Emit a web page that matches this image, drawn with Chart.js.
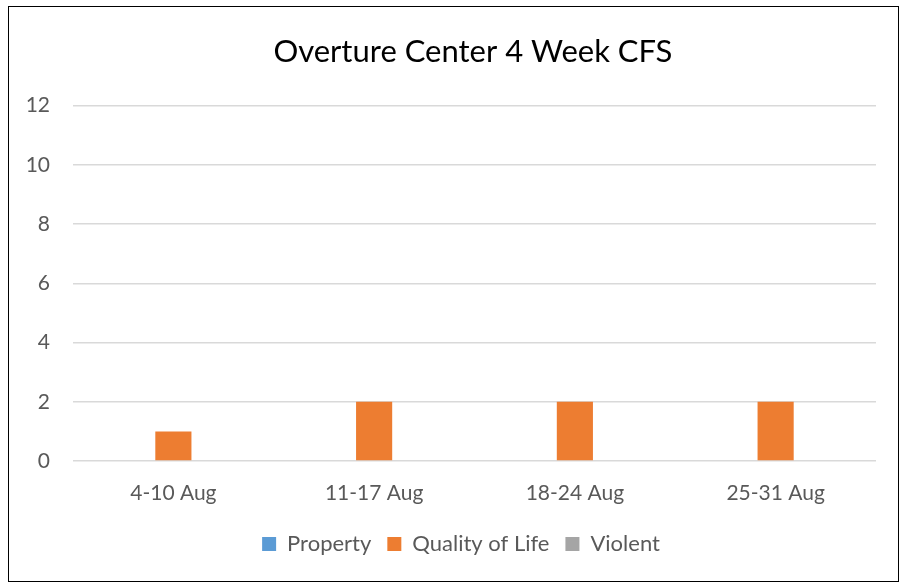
<!DOCTYPE html>
<html>
<head>
<meta charset="utf-8">
<script src="https://cdn.jsdelivr.net/npm/chart.js@4"></script>
<style>
  html, body { margin: 0; padding: 0; background: #fff; }
  #frame { position: absolute; left: 8px; top: 6px; width: 891px; height: 576px; border: 1.5px solid #000; box-sizing: border-box; }
  #c { position: absolute; left: 0; top: 0; }
</style>
</head>
<body>
<div id="frame"></div>
<canvas id="c" width="904" height="584"></canvas>
<script>
const categories = ["4-10 Aug", "11-17 Aug", "18-24 Aug", "25-31 Aug"];
const property = [0, 0, 0, 0];
const qualityOfLife = [1, 2, 2, 2];
const violent = [0, 0, 0, 0];
const yTicks = [0, 2, 4, 6, 8, 10, 12];

const FONT = "Lato, 'Open Sans', sans-serif";
const GREY = '#595959';

new Chart(document.getElementById('c'), {
  type: 'bar',
  data: {
    labels: categories,
    datasets: [
      { label: 'Property', data: property, backgroundColor: '#5B9BD5' },
      { label: 'Quality of Life', data: qualityOfLife, backgroundColor: '#ED7D31' },
      { label: 'Violent', data: violent, backgroundColor: '#A5A5A5' }
    ]
  },
  options: {
    responsive: false,
    animation: false,
    devicePixelRatio: 1,
    layout: { padding: { left: 18, right: 0, top: 0, bottom: 19 } },
    datasets: { bar: { categoryPercentage: 0.54, barPercentage: 1.0, borderWidth: 0 } },
    plugins: {
      tooltip: { enabled: false },
      title: {
        display: true,
        text: '\u00A0\u00A0\u00A0Overture Center 4 Week CFS',
        color: '#000',
        font: { family: FONT, size: 31, weight: 'normal', lineHeight: 1.2 },
        padding: { top: 33, bottom: 35.5 }
      },
      legend: {
        position: 'bottom',
        labels: {
          color: GREY,
          font: { family: FONT, size: 22 },
          boxWidth: 14, boxHeight: 14,
          padding: 16
        }
      }
    },
    scales: {
      x: {
        grid: { display: false },
        border: { display: false },
        afterFit: (s) => { s.height = 56; },
        ticks: { color: GREY, font: { family: FONT, size: 21 }, padding: 12 }
      },
      y: {
        min: 0, max: 12,
        afterBuildTicks: (s) => { s.ticks = yTicks.map(v => ({ value: v })); },
        afterFit: (s) => { s.width = 55; },
        grid: { color: '#D9D9D9', lineWidth: 1.5, drawTicks: false },
        border: { display: false },
        ticks: { color: GREY, font: { family: FONT, size: 21 }, padding: 23 }
      },
      yRight: {
        position: 'right',
        display: true,
        afterFit: (s) => { s.width = 28; },
        grid: { display: false },
        border: { display: false },
        ticks: { display: false }
      }
    }
  }
});
</script>
</body>
</html>
